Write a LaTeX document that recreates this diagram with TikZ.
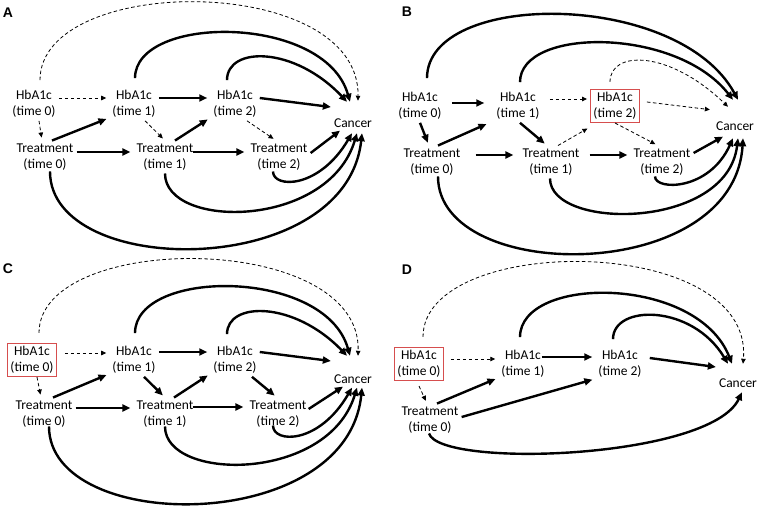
\documentclass[tikz,border=0pt]{standalone}
\usepackage{fontspec}
\setmainfont{Carlito}
\newfontfamily\panelfont{Liberation Sans}
\usepackage{tikz}
\usetikzlibrary{arrows.meta}
\definecolor{selred}{RGB}{214,78,78}
\tikzset{
  var/.style={align=center, inner sep=3pt, font=\fontsize{13.5}{16}\selectfont},
  sel/.style={draw=selred, line width=0.8pt},
  thk/.style={line width=2.4pt, -{Triangle[length=8pt,width=7pt]}},
  dsh/.style={line width=0.8pt, dash pattern=on 3.5pt off 2.5pt, -{Triangle[length=5pt,width=4.5pt]}},
  gap/.style={shorten >=3pt},
  panel/.style={font=\panelfont\bfseries\fontsize{14}{16}\selectfont}
}

\begin{document}
\begin{tikzpicture}[x=1pt, y=-1pt]
    \useasboundingbox (0,0) rectangle (760,508);

    % panel A
    \begin{scope}
        \node[panel] (alab) at (8,13) {A};
        \node[var] (ah0) at (34,104) {HbA1c\\(time 0)};
        \node[var] (ah1) at (134,104) {HbA1c\\(time 1)};
        \node[var] (ah2) at (235,104) {HbA1c\\(time 2)};
        \node[var] (at0) at (45,157) {Treatment\\(time 0)};
        \node[var] (at1) at (165,157) {Treatment\\(time 1)};
        \node[var] (at2) at (279,157) {Treatment\\(time 2)};
        \node[var] (ac) at (353,123) {Cancer};
        \draw[dsh,gap] ([yshift=6pt]ah0.east) -- ([yshift=6pt]ah1.west);
        \draw[dsh,gap] ([xshift=5pt]ah0.south) -- ([xshift=-3pt]at0.north);
        \draw[thk,gap] ([xshift=7pt]at0.north) -- ([yshift=3pt]ah1.south west);
        \draw[thk,gap] ([yshift=5pt]at0.east) -- ([yshift=5pt]at1.west);
        \draw[thk,gap] ([yshift=6pt]ah1.east) -- ([yshift=6pt]ah2.west);
        \draw[dsh,gap] ([xshift=11pt]ah1.south) -- (at1.north);
        \draw[thk,gap] ([xshift=10pt]at1.north) -- ([yshift=3pt]ah2.south west);
        \draw[thk,gap] ([xshift=-4pt,yshift=5pt]at1.east) -- ([yshift=5pt]at2.west);
        \draw[dsh,gap] ([xshift=12pt]ah2.south) -- ([xshift=-3pt]at2.north);
        \draw[thk] ([yshift=6pt]ah2.east) -- ([yshift=16pt]ac.west);
        \draw[thk] ([yshift=4pt]at2.east) -- ([xshift=-13pt]ac.south);
        \draw[dsh] ([xshift=6pt,yshift=7pt]ah0.north) .. controls +(0,-107) and +(2,-128) .. ([xshift=5pt,yshift=14.6pt]ac.north);
        \draw[thk] ([xshift=1pt,yshift=9pt]ah1.north) .. controls +(0,-64) and +(-25,-88) .. ([xshift=-3pt,yshift=13.6pt]ac.north);
        \draw[thk] ([xshift=-8pt,yshift=7pt]ah2.north) .. controls +(0,-34) and +(-53,-56) .. ([xshift=-6pt,yshift=13.6pt]ac.north);
        \draw[thk] ([xshift=5pt,yshift=2pt]at0.south) .. controls +(0,108) and +(-16,147) .. ([xshift=9pt,yshift=-2.6pt]ac.south);
        \draw[thk] (at1.south) .. controls +(0,56) and +(-29,96) .. ([xshift=4pt,yshift=-2.6pt]ac.south);
        \draw[thk] ([xshift=-6pt,yshift=2pt]at2.south) .. controls +(0,17) and +(-33,56) .. ([xshift=-1pt,yshift=-2.6pt]ac.south);
    \end{scope}

    % panel B
    \begin{scope}[shift={(380,0)}]
        \node[panel] (blab) at (27,12) {B};
        \node[var] (bh0) at (40,106) {HbA1c\\(time 0)};
        \node[var] (bh1) at (138,106) {HbA1c\\(time 1)};
        \node[var,sel] (bh2) at (235,106) {HbA1c\\(time 2)};
        \node[var] (bt0) at (52,162) {Treatment\\(time 0)};
        \node[var] (bt1) at (171,162) {Treatment\\(time 1)};
        \node[var] (bt2) at (282,162) {Treatment\\(time 2)};
        \node[var] (bc) at (355,126) {Cancer};
        \draw[thk,gap] ([xshift=7pt,yshift=3pt]bh0.east) -- ([xshift=-6pt,yshift=3pt]bh1.west);
        \draw[thk,gap] (bh0.south) -- ([xshift=-3pt]bt0.north);
        \draw[thk,gap] ([xshift=6pt]bt0.north) -- ([xshift=-4pt]bh1.south west);
        \draw[thk,gap] ([xshift=12pt,yshift=7pt]bt0.east) -- ([xshift=-3pt,yshift=7pt]bt1.west);
        \draw[dsh,gap] ([xshift=7pt,yshift=7pt]bh1.east) -- ([yshift=7pt]bh2.west);
        \draw[thk,gap] ([xshift=2pt]bh1.south) -- ([xshift=-4pt]bt1.north);
        \draw[dsh,gap] ([xshift=7pt]bt1.north) -- ([yshift=-4pt]bh2.south west);
        \draw[thk,gap] ([xshift=7pt,yshift=7pt]bt1.east) -- ([yshift=7pt]bt2.west);
        \draw[dsh,gap] (bh2.south) -- ([xshift=-4pt]bt2.north);
        \draw[dsh,gap] ([xshift=7pt,yshift=4pt]bh2.east) -- ([yshift=16pt]bc.west);
        \draw[thk] ([yshift=9pt]bt2.east) -- ([xshift=-12pt,yshift=-3pt]bc.south);
        \draw[thk] ([xshift=7pt,yshift=11pt]bh0.north) .. controls +(0,-88) and +(-60,-110) .. ([xshift=3pt,yshift=18.6pt]bc.north);
        \draw[thk] ([xshift=2pt,yshift=7pt]bh1.north) .. controls +(0,-55) and +(-57,-73) .. ([xshift=-2pt,yshift=18.6pt]bc.north);
        \draw[dsh] ([xshift=-5pt,yshift=7pt]bh2.north) .. controls +(0,-32) and +(-59,-57) .. ([xshift=-7pt,yshift=11.6pt]bc.north);
        \draw[thk] ([xshift=6pt,yshift=2pt]bt0.south) .. controls +(0,108) and +(-9,147) .. ([xshift=8pt,yshift=-4.6pt]bc.south);
        \draw[thk] ([xshift=-1pt]bt1.south) .. controls +(0,52) and +(-11,92) .. ([xshift=3pt,yshift=-4.6pt]bc.south);
        \draw[thk] ([xshift=-7pt,yshift=2pt]bt2.south) .. controls +(0,14) and +(-24,53) .. ([xshift=-2pt,yshift=-4.6pt]bc.south);
    \end{scope}

    % panel C
    \begin{scope}[shift={(0,254)}]
        \node[panel] (clab) at (8,15) {C};
        \node[var,sel] (ch0) at (32,106) {HbA1c\\(time 0)};
        \node[var] (ch1) at (134,106) {HbA1c\\(time 1)};
        \node[var] (ch2) at (235,106) {HbA1c\\(time 2)};
        \node[var] (ct0) at (44,160) {Treatment\\(time 0)};
        \node[var] (ct1) at (165,160) {Treatment\\(time 1)};
        \node[var] (ct2) at (278,160) {Treatment\\(time 2)};
        \node[var] (cc) at (353,125) {Cancer};
        \draw[dsh,gap] ([xshift=8pt,yshift=7pt]ch0.east) -- ([yshift=7pt]ch1.west);
        \draw[dsh,gap] ([xshift=5pt]ch0.south) -- ([xshift=-3pt]ct0.north);
        \draw[thk,gap] ([xshift=9pt]ct0.north) -- ([yshift=3pt]ch1.south west);
        \draw[thk,gap] ([yshift=6pt]ct0.east) -- ([yshift=6pt]ct1.west);
        \draw[thk,gap] ([yshift=8pt]ch1.east) -- ([yshift=8pt]ch2.west);
        \draw[thk,gap] ([xshift=10pt]ch1.south) -- (ct1.north);
        \draw[thk,gap] ([xshift=9pt]ct1.north) -- ([yshift=3pt]ch2.south west);
        \draw[thk,gap] ([xshift=-4pt,yshift=7pt]ct1.east) -- ([yshift=7pt]ct2.west);
        \draw[thk,gap] ([xshift=17pt]ch2.south) -- ([xshift=-1pt]ct2.north);
        \draw[thk] ([yshift=8pt]ch2.east) -- ([yshift=18pt]cc.west);
        \draw[thk] ([xshift=-1pt,yshift=5pt]ct2.east) -- ([xshift=-10pt]cc.south);
        \draw[dsh] ([xshift=7pt,yshift=10pt]ch0.north) .. controls +(0,-102) and +(4,-125) .. ([xshift=5pt,yshift=15.6pt]cc.north);
        \draw[thk] ([xshift=1pt,yshift=10pt]ch1.north) .. controls +(0,-65) and +(-25,-88) .. ([xshift=-3pt,yshift=15.6pt]cc.north);
        \draw[thk] ([xshift=-8pt,yshift=9pt]ch2.north) .. controls +(0,-33) and +(-53,-55) .. ([xshift=-6pt,yshift=15.6pt]cc.north);
        \draw[thk] ([xshift=5pt,yshift=4pt]ct0.south) .. controls +(0,108) and +(-15,148) .. ([xshift=9pt,yshift=-1pt]cc.south);
        \draw[thk] ([yshift=4pt]ct1.south) .. controls +(0,55) and +(-29,95) .. ([xshift=4pt,yshift=-1pt]cc.south);
        \draw[thk] ([xshift=-5pt,yshift=5pt]ct2.south) .. controls +(0,18) and +(-33,57) .. ([xshift=-1pt,yshift=-1pt]cc.south);
    \end{scope}

    % panel D
    \begin{scope}[shift={(380,254)}]
        \node[panel] (dlab) at (27,16) {D};
        \node[var,sel] (dh0) at (39,110) {HbA1c\\(time 0)};
        \node[var] (dh1) at (143,110) {HbA1c\\(time 1)};
        \node[var] (dh2) at (240,110) {HbA1c\\(time 2)};
        \node[var] (dt0) at (50,166) {Treatment\\(time 0)};
        \node[var] (dc) at (358,129) {Cancer};
        \draw[dsh,gap] ([xshift=7pt,yshift=5pt]dh0.east) -- ([yshift=5pt]dh1.west);
        \draw[dsh,gap] ([yshift=-5pt]dh0.south) -- ([xshift=-3pt]dt0.north);
        \draw[thk,gap] ([xshift=7pt]dt0.north) -- ([yshift=3pt]dh1.south west);
        \draw[thk,gap] ([yshift=3pt]dt0.east) -- ([yshift=2pt]dh2.south west);
        \draw[thk,gap] ([xshift=-6pt,yshift=7pt]dh1.east) -- ([yshift=7pt]dh2.west);
        \draw[thk] ([xshift=5pt,yshift=6pt]dh2.east) -- ([yshift=16pt]dc.west);
        \draw[dsh] ([xshift=4pt,yshift=10pt]dh0.north) .. controls +(0,-104) and +(11,-131) .. ([xshift=5pt,yshift=11.6pt]dc.north);
        \draw[thk] ([xshift=-3pt,yshift=10pt]dh1.north) .. controls +(0,-62) and +(-35,-89) .. ([xshift=-6pt,yshift=11.6pt]dc.north);
        \draw[thk] ([xshift=-7pt,yshift=8pt]dh2.north) .. controls +(0,-35) and +(-36,-60) .. ([xshift=-10pt,yshift=11.6pt]dc.north);
        \draw[thk] ([xshift=-1pt,yshift=3pt]dt0.south) .. controls +(11,35) and +(-32,67) .. ([xshift=4pt,yshift=-1.6pt]dc.south);
    \end{scope}
\end{tikzpicture}
\end{document}
